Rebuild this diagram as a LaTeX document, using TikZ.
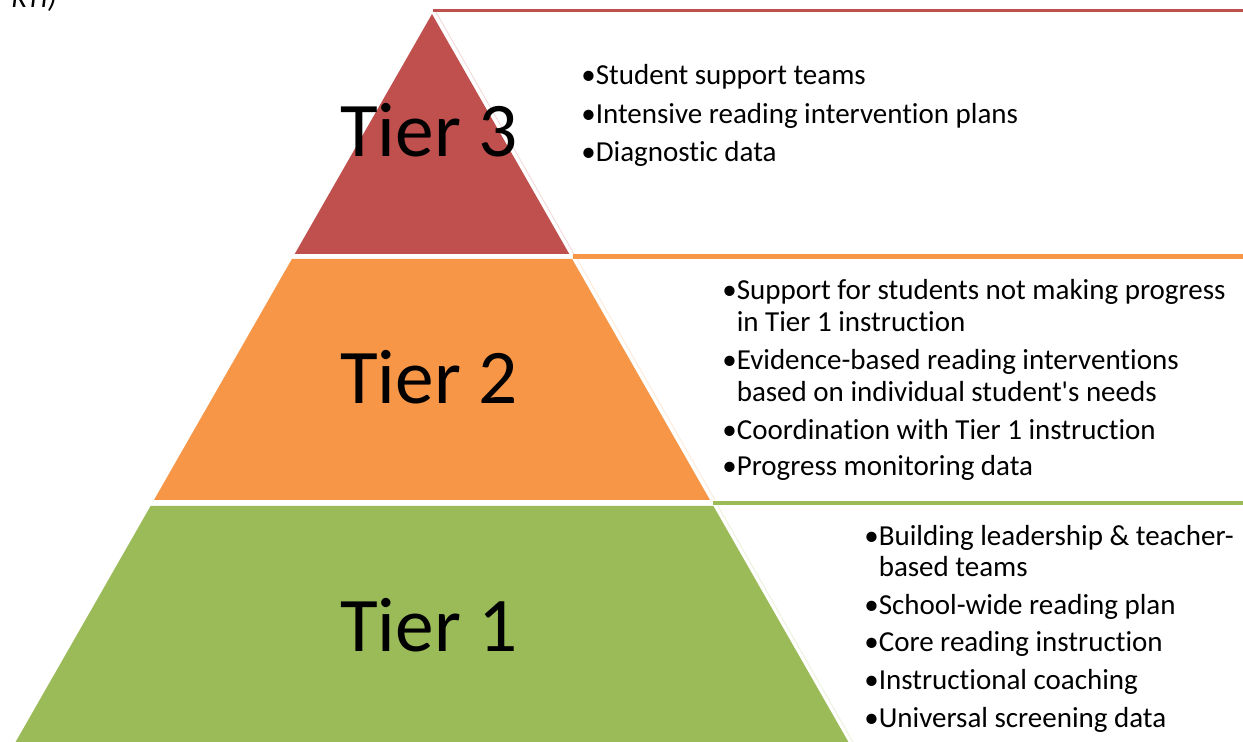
\documentclass[tikz,border=0pt]{standalone}
\usepackage{fontspec}
\setmainfont{Carlito}[Ligatures=TeX, RawFeature={-liga;-clig;-dlig;-calt;-hlig}]
\usetikzlibrary{calc}
\definecolor{tierred}{HTML}{C0504D}
\definecolor{tierorange}{HTML}{F79646}
\definecolor{tiergreen}{HTML}{9BBB59}
\tikzstyle{tierlabel}=[font=\fontsize{44}{48}\selectfont, anchor=base, inner sep=0pt]
\tikzstyle{item}=[font=\fontsize{16.5}{18}\selectfont, anchor=base west, inner sep=0pt]
\tikzstyle{rule}=[line cap=butt]
\newcommand{\bul}{\hphantom{•}}

\begin{document}
\begin{tikzpicture}[x=0.02cm,y=-0.02cm]
          \useasboundingbox (0,0) rectangle (1243,742);
          %titulo cortado
          \node[item, font=\fontsize{16.5}{18}\selectfont\itshape] (title) at (11,8) {RTI)};
          %nivel 3
          \fill[tierred] (432,14) -- (569.3,254) -- (294.7,254) -- cycle;
          \draw[tierred!25, line width=0.4pt] (436,12) -- (574,254);
          \draw[rule, tierred, line width=1.7pt] (433,11) -- (1243,11);
          \node[tierlabel] (tier3) at (429,157) {Tier 3};
          %nivel 2
          \fill[tierorange] (291.9,259) -- (572.1,259) -- (710,500) -- (154,500) -- cycle;
          \draw[tierorange!25, line width=0.4pt] (577,259) -- (715,500);
          \draw[rule, tierorange, line width=2.6pt] (573,256.5) -- (1243,256.5);
          \node[tierlabel] (tier2) at (429,404) {Tier 2};
          %nivel 1
          \fill[tiergreen] (150.6,506) -- (713.4,506) -- (848.4,742) -- (15.6,742) -- cycle;
          \draw[tiergreen!25, line width=0.4pt] (718,506) -- (853,742);
          \draw[rule, tiergreen, line width=2.6pt] (713,503) -- (1243,503);
          \node[tierlabel] (tier1) at (429,651) {Tier 1};
          %lista nivel 3
          \node[item] (t3a) at (581,85) {•Student support teams};
          \node[item] (t3b) at (581,123.5) {•Intensive reading intervention plans};
          \node[item] (t3c) at (581,162) {•Diagnostic data};
          %lista nivel 2
          \node[item] (t2a) at (722,300) {•Support for students not making progress};
          \node[item] (t2b) at (722,332) {\bul in Tier 1 instruction};
          \node[item] (t2c) at (722,370) {•Evidence-based reading interventions};
          \node[item] (t2d) at (722,402) {\bul based on individual student\textquotesingle s needs};
          \node[item] (t2e) at (722,440) {•Coordination with Tier 1 instruction};
          \node[item] (t2f) at (722,476) {•Progress monitoring data};
          %lista nivel 1
          \node[item] (t1a) at (864,545) {•Building leadership \& teacher-};
          \node[item] (t1b) at (864,576) {\bul based teams};
          \node[item] (t1c) at (864,614) {•School-wide reading plan};
          \node[item] (t1d) at (864,651) {•Core reading instruction};
          \node[item] (t1e) at (864,689) {•Instructional coaching};
          \node[item] (t1f) at (864,727) {•Universal screening data};
        \end{tikzpicture}
\end{document}
